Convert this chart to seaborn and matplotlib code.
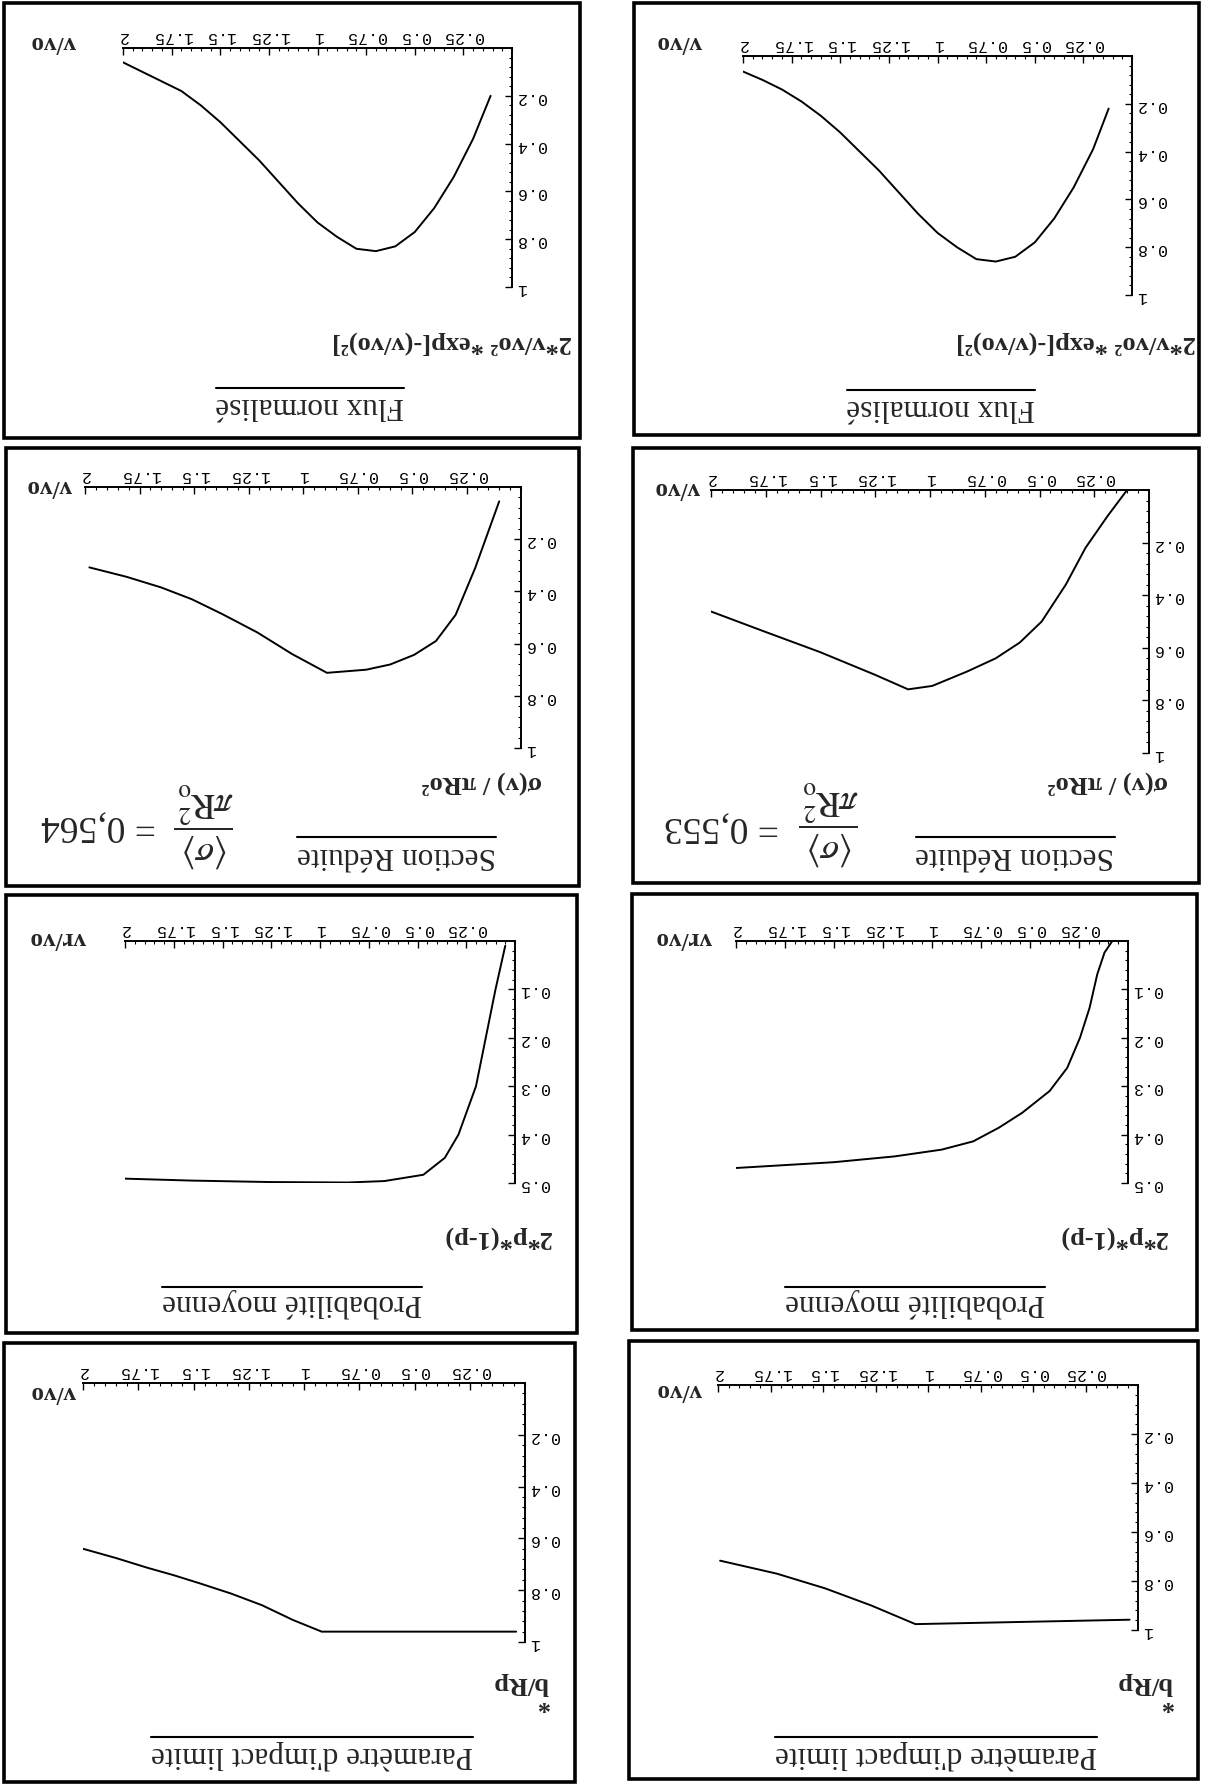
import matplotlib
matplotlib.use("Agg")
import matplotlib.pyplot as plt
import seaborn as sns
from matplotlib.patches import Rectangle
from matplotlib.lines import Line2D
from matplotlib.ticker import MultipleLocator

sns.set_style("white")
plt.rcParams["font.family"] = ["Liberation Serif", "DejaVu Serif"]
plt.rcParams["mathtext.fontset"] = "stix"

# ---------------- data ----------------
x_ticks = [0.25, 0.5, 0.75, 1.0, 1.25, 1.5, 1.75, 2.0]
x_tick_labels = ["0.25", "0.5", "0.75", "1", "1.25", "1.5", "1.75", "2"]
y_ticks_unit = [0.2, 0.4, 0.6, 0.8, 1.0]
y_tick_labels_unit = ["0.2", "0.4", "0.6", "0.8", "1"]
y_ticks_prob = [0.1, 0.2, 0.3, 0.4, 0.5]
y_tick_labels_prob = ["0.1", "0.2", "0.3", "0.4", "0.5"]

# normalised flux
flux_v_a = [0.11, 0.2, 0.3, 0.4, 0.5, 0.6, 0.7, 0.8, 0.9, 1.0, 1.1, 1.2, 1.3, 1.4, 1.5, 1.6, 1.7, 1.8, 1.9, 2.0]
flux_y_a = [0.20, 0.38, 0.54, 0.67, 0.77, 0.83, 0.85, 0.84, 0.79, 0.73, 0.65, 0.56, 0.47, 0.39, 0.31, 0.24, 0.18, 0.14, 0.10, 0.06]
flux_v_b = [0.12, 0.2, 0.3, 0.4, 0.5, 0.6, 0.7, 0.8, 0.9, 1.0, 1.1, 1.2, 1.3, 1.4, 1.5, 1.6, 1.7, 1.8, 1.9, 2.0]
flux_y_b = [0.22, 0.39, 0.55, 0.68, 0.78, 0.84, 0.86, 0.85, 0.80, 0.74, 0.66, 0.57, 0.48, 0.40, 0.32, 0.25, 0.19, 0.14, 0.10, 0.065]

# reduced cross section
sect_v_a = [0.10, 0.21, 0.30, 0.39, 0.49, 0.60, 0.71, 0.89, 1.05, 1.21, 1.37, 1.51, 1.65, 1.81, 1.98]
sect_y_a = [0.055, 0.31, 0.49, 0.59, 0.643, 0.68, 0.70, 0.712, 0.64, 0.557, 0.487, 0.43, 0.385, 0.344, 0.308]
sect_v_b = [0.10, 0.19, 0.29, 0.38, 0.49, 0.59, 0.70, 0.83, 0.99, 1.10, 1.25, 1.50, 1.75, 2.0]
sect_y_b = [0.0, 0.10, 0.22, 0.36, 0.50, 0.58, 0.64, 0.69, 0.745, 0.758, 0.703, 0.617, 0.54, 0.462]
sect_mean_a = "0,564"
sect_mean_b = "0,553"

# mean probability
prob_v_a = [0.05, 0.10, 0.15, 0.20, 0.29, 0.36, 0.47, 0.67, 0.86, 1.26, 1.66, 2.0]
prob_y_a = [0.01, 0.10, 0.20, 0.30, 0.40, 0.448, 0.483, 0.496, 0.499, 0.498, 0.495, 0.491]
prob_v_b = [0.08, 0.12, 0.157, 0.196, 0.245, 0.31, 0.40, 0.54, 0.66, 0.79, 0.95, 1.19, 1.5, 2.0]
prob_y_b = [0.0, 0.024, 0.069, 0.138, 0.20, 0.262, 0.31, 0.355, 0.386, 0.414, 0.431, 0.445, 0.457, 0.469]

# limiting impact parameter
imp_v_a = [0.04, 0.92, 1.05, 1.19, 1.33, 1.47, 1.59, 1.71, 1.85, 2.0]
imp_y_a = [0.96, 0.96, 0.915, 0.858, 0.813, 0.774, 0.742, 0.713, 0.676, 0.64]
imp_v_b = [0.04, 1.06, 1.27, 1.49, 1.72, 1.99]
imp_y_b = [0.958, 0.976, 0.90, 0.83, 0.77, 0.717]

# ---------------- layout (page is printed upside down) ----------------
W, H = 1206, 1785
fig = plt.figure(figsize=(W / 100, H / 100), dpi=100)
fig.patch.set_facecolor("white")

TITLE_FS = 22.5
LABEL_FS = 19
XLABEL_FS = 18
TICK_FS = 12
MONO = "Liberation Mono"


def fxy(x, y):
    return x / W, 1 - y / H


def utext(x, y, s, size, **kw):
    fx, fy = fxy(x, y)
    return fig.text(fx, fy, s, rotation=180, ha="center", va="center",
                    fontsize=size, **kw)


panels = [
    dict(title="Flux normalisé", ylab="2*v/vo² *exp[-(v/vo)²]", xlab="v/vo",
         v=flux_v_a, y=flux_y_a, ymax=1.0, yt=y_ticks_unit, ytl=y_tick_labels_unit,
         box=(4, 3, 580, 438), ax=(123, 48, 512, 287),
         xl=(54, 43), yl=(452, 343), tl=(310, 405), ol=388),
    dict(title="Flux normalisé", ylab="2*v/vo² *exp[-(v/vo)²]", xlab="v/vo",
         v=flux_v_b, y=flux_y_b, ymax=1.0, yt=y_ticks_unit, ytl=y_tick_labels_unit,
         box=(634, 3, 1199, 435), ax=(743, 56, 1132, 295),
         xl=(680, 43), yl=(1076, 343), tl=(941, 408), ol=390),
    dict(title="Section Réduite", ylab="σ(v) / πRo²", xlab="v/vo",
         v=sect_v_a, y=sect_y_a, ymax=1.0, yt=y_ticks_unit, ytl=y_tick_labels_unit,
         box=(6, 448, 579, 886), ax=(85, 487, 521, 748),
         xl=(50, 487), yl=(482, 783), tl=(396, 855), ol=837,
         mean=sect_mean_a, frac=(204, 825), num=(99, 826)),
    dict(title="Section Réduite", ylab="σ(v) / πRo²", xlab="v/vo",
         v=sect_v_b, y=sect_y_b, ymax=1.0, yt=y_ticks_unit, ytl=y_tick_labels_unit,
         box=(633, 448, 1199, 883), ax=(711, 490, 1149, 753),
         xl=(678, 488), yl=(1108, 783), tl=(1015, 855), ol=837,
         mean=sect_mean_b, frac=(829, 823), num=(722, 827)),
    dict(title="Probabilité moyenne", ylab="2*p*(1-p)", xlab="vr/vo",
         v=prob_v_a, y=prob_y_a, ymax=0.5, yt=y_ticks_prob, ytl=y_tick_labels_prob,
         box=(6, 895, 577, 1333), ax=(125, 941, 515, 1183),
         xl=(58, 938), yl=(497, 1237), tl=(292, 1303), ol=1287),
    dict(title="Probabilité moyenne", ylab="2*p*(1-p)", xlab="vr/vo",
         v=prob_v_b, y=prob_y_b, ymax=0.5, yt=y_ticks_prob, ytl=y_tick_labels_prob,
         box=(632, 894, 1197, 1330), ax=(736, 941, 1128, 1183),
         xl=(684, 938), yl=(1113, 1237), tl=(915, 1303), ol=1287),
    dict(title="Paramètre d'impact limite", ylab="*\nb/Rp", xlab="v/vo",
         v=imp_v_a, y=imp_y_a, ymax=1.0, yt=y_ticks_unit, ytl=y_tick_labels_unit,
         box=(4, 1343, 575, 1782), ax=(83, 1383, 525, 1642),
         xl=(54, 1392), yl=(521, 1692), tl=(312, 1755), ol=1737),
    dict(title="Paramètre d'impact limite", ylab="*\nb/Rp", xlab="v/vo",
         v=imp_v_b, y=imp_y_b, ymax=1.0, yt=y_ticks_unit, ytl=y_tick_labels_unit,
         box=(629, 1341, 1198, 1779), ax=(718, 1385, 1138, 1630),
         xl=(680, 1390), yl=(1145, 1692), tl=(936, 1755), ol=1737),
]

title_texts = []
for p in panels:
    # frame around the panel
    x0, y0, x1, y1 = p["box"]
    fx0, fy1 = fxy(x0, y1)
    fig.add_artist(Rectangle((fx0, fy1), (x1 - x0) / W, (y1 - y0) / H,
                             transform=fig.transFigure, fill=False,
                             ec="black", lw=2.6))

    # plot area: v increases leftward, value increases downward
    ax0, ay0, ax1, ay1 = p["ax"]
    fx0, fyb = fxy(ax0, ay1)
    ax = fig.add_axes([fx0, fyb, (ax1 - ax0) / W, (ay1 - ay0) / H])
    ax.patch.set_visible(False)
    sns.lineplot(x=p["v"], y=p["y"], ax=ax, color="black", linewidth=1.4,
                 sort=False, estimator=None)
    ax.set_xlim(2.0, 0.0)
    ax.set_ylim(p["ymax"], 0.0)
    ax.set_xlabel("")
    ax.set_ylabel("")
    for side in ("left", "bottom"):
        ax.spines[side].set_visible(False)
    for side in ("top", "right"):
        ax.spines[side].set_visible(True)
        ax.spines[side].set_linewidth(1.4)
        ax.spines[side].set_color("black")
    ax.xaxis.set_ticks_position("top")
    ax.yaxis.set_ticks_position("right")
    ax.set_xticks(x_ticks)
    ax.set_xticklabels(x_tick_labels, rotation=180, fontfamily=MONO, fontsize=TICK_FS)
    ax.set_yticks(p["yt"])
    ax.set_yticklabels(p["ytl"], rotation=180, fontfamily=MONO, fontsize=TICK_FS)
    ax.xaxis.set_minor_locator(MultipleLocator(0.05))
    ax.yaxis.set_minor_locator(MultipleLocator(p["ymax"] / 25))
    ax.tick_params(which="major", direction="in", length=5, width=1, pad=3,
                   colors="black")
    ax.tick_params(which="minor", direction="in", length=2.5, width=0.8,
                   colors="black")

    # labels and title
    utext(*p["xl"], p["xlab"], XLABEL_FS, fontweight="bold")
    utext(*p["yl"], p["ylab"], LABEL_FS, fontweight="bold",
          multialignment="left", linespacing=0.62)
    t = utext(*p["tl"], p["title"], TITLE_FS)
    title_texts.append((t, p["ol"]))

    if "mean" in p:
        utext(*p["frac"],
              r"$\dfrac{\langle\sigma\rangle}{\pi \mathrm{R}_{\mathrm{o}}^{2}}$", 26)
        utext(*p["num"], "= " + p["mean"], 27)

# underline of each title (drawn above the inverted text)
fig.canvas.draw()
renderer = fig.canvas.get_renderer()
for t, oly in title_texts:
    bb = t.get_window_extent(renderer)
    yy = 1 - oly / H
    fig.add_artist(Line2D([bb.x0 / W, bb.x1 / W], [yy, yy],
                          transform=fig.transFigure, color="black", lw=1.5))

fig.savefig("out.png", dpi=100, facecolor="white")
